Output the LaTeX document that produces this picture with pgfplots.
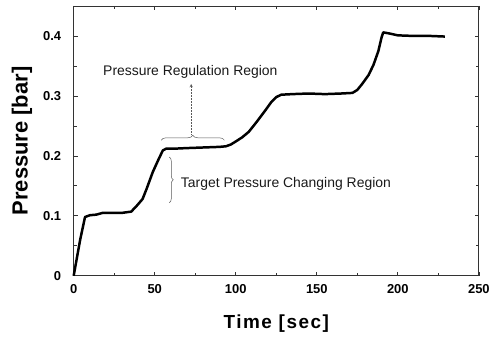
\documentclass[border=0pt]{standalone}
\usepackage{pgfplots}
\pgfplotsset{compat=1.18}
\usepackage{fontspec}
\setmainfont{Liberation Sans}
\newfontfamily\timefont[LetterSpace=8]{Liberation Sans}
\usetikzlibrary{decorations.pathreplacing}
\begin{document}
\begin{tikzpicture}
\begin{axis}[
  scale only axis,
  width=407pt, height=271pt,
  xmin=0, xmax=250, ymin=0, ymax=0.45,
  xtick={0,50,100,150,200,250},
  ytick={0,0.1,0.2,0.3,0.4},
  minor xtick={25,75,125,175,225},
  minor ytick={0.05,0.15,0.25,0.35},
  yticklabels={0,0.1,0.2,0.3,0.4},
  tick align=inside,
  major tick length=4pt, minor tick length=3pt,
  axis line style={line width=0.8pt, black!80},
  every tick/.style={black!80, line width=0.7pt},
  /pgf/number format/assume math mode=true,
  ticklabel style={font=\fontsize{13}{13}\selectfont\bfseries},
  yticklabel style={xshift=-9pt},
  xticklabel style={yshift=-5pt},
  xlabel={\timefont\bfseries\fontsize{19}{19}\selectfont Time [sec]},
  ylabel={\bfseries\fontsize{22}{22}\selectfont Pressure [bar]},
  xlabel style={at={(axis description cs:0.5,-0.177)}, anchor=center},
  ylabel style={at={(axis description cs:-0.1278,0.5)}, anchor=center},
  clip=false,
]
\addplot[black, line width=2.5pt, line join=round] coordinates {
(0,0) (2,0.03) (4,0.06) (7,0.098) (10,0.101) (14,0.102) (18,0.105) (25,0.105)
(30,0.105) (35.5,0.107) (39,0.117) (42.5,0.128) (45,0.145) (48.8,0.173)
(52.5,0.195) (55,0.209) (57,0.212) (62,0.212) (70,0.213) (80,0.214) (90,0.215)
(94,0.216) (97,0.219) (100,0.224) (104,0.231) (108,0.24) (113,0.257)
(118,0.275) (122,0.29) (125,0.298) (128,0.302) (135,0.303) (145,0.304)
(155,0.303) (165,0.304) (172,0.305) (175,0.31) (178,0.32) (182,0.335)
(185,0.352) (188,0.375) (190,0.398) (191,0.406) (195,0.404) (200,0.401)
(210,0.4) (220,0.4) (229,0.399)
};
\draw[gray!70!black, line width=0.5pt, decorate, decoration={brace, amplitude=5pt}]
  (axis cs:54,0.226) -- (axis cs:93,0.226);
\draw[gray!70!black, line width=0.5pt, densely dotted, -stealth]
  (axis cs:72.5,0.236) -- (axis cs:72.5,0.32);
\draw[gray!70!black, line width=0.5pt, decorate, decoration={brace, amplitude=4pt}]
  (axis cs:59,0.198) -- (axis cs:59,0.122);
\node[font=\fontsize{14}{14}\selectfont, text=black!90] at (axis cs:72,0.34) {Pressure Regulation Region};
\node[font=\fontsize{14}{14}\selectfont, text=black!90, anchor=west] at (axis cs:64,0.153) {Target Pressure Changing Region};
\path (axis description cs:0,0) ++(-74pt,-61pt) coordinate (bbA);
\path (axis description cs:1,1) ++(12pt,6pt) coordinate (bbB);
\path (bbA) rectangle (bbB);
\end{axis}
\end{tikzpicture}
\end{document}
